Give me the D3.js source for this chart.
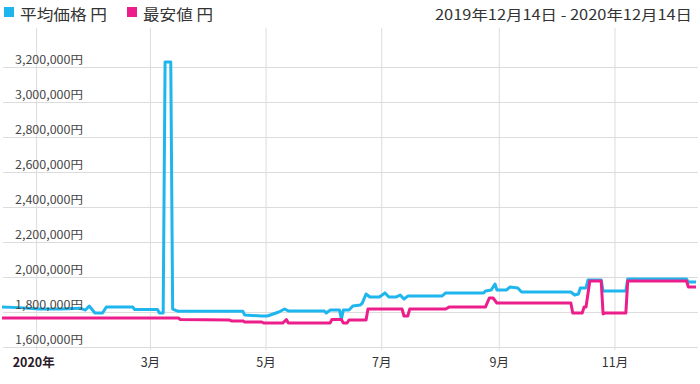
<!DOCTYPE html>
<html><head><meta charset="utf-8">
<script src="https://cdnjs.cloudflare.com/ajax/libs/d3/7.8.5/d3.min.js"></script>
<style>
html,body{margin:0;padding:0;background:#fff;}
svg{display:block;font-family:"Noto Sans CJK JP","Noto Sans",sans-serif;}
</style></head>
<body><svg id="c" width="700" height="384"></svg>
<script>
const seriesNames = ["平均価格 円", "最安値 円"];
const seriesColors = ["#1fb6ee", "#ec1e8c"];
const dateRangeLabel = "2019年12月14日 - 2020年12月14日";
const yTickValues = [1600000,1800000,2000000,2200000,2400000,2600000,2800000,3000000,3200000];
const avgDates = ["2019-12-14","2019-12-23","2020-01-03","2020-01-14","2020-01-24","2020-01-27","2020-01-29","2020-02-01","2020-02-05","2020-02-07","2020-02-21","2020-02-22","2020-03-05","2020-03-06","2020-03-08","2020-03-09","2020-03-12","2020-03-13","2020-03-16","2020-04-19","2020-04-20","2020-04-29","2020-05-02","2020-05-08","2020-05-11","2020-05-13","2020-06-01","2020-06-02","2020-06-04","2020-06-09","2020-06-10","2020-06-11","2020-06-14","2020-06-16","2020-06-20","2020-06-21","2020-06-23","2020-06-25","2020-06-30","2020-07-03","2020-07-05","2020-07-09","2020-07-11","2020-07-13","2020-07-15","2020-08-02","2020-08-04","2020-08-24","2020-08-25","2020-08-28","2020-08-30","2020-08-31","2020-09-05","2020-09-07","2020-09-11","2020-09-13","2020-10-09","2020-10-11","2020-10-13","2020-10-14","2020-10-17","2020-10-18","2020-10-25","2020-10-26","2020-11-07","2020-11-08","2020-12-09","2020-12-10","2020-12-14"];
const avgValues = [1828000,1825000,1817000,1817000,1822000,1811000,1834000,1794000,1794000,1828000,1828000,1814000,1814000,1794000,1794000,3228000,3228000,1817000,1804000,1804000,1783000,1777000,1777000,1800000,1817000,1806000,1806000,1794000,1811000,1811000,1760000,1811000,1811000,1834000,1840000,1851000,1903000,1886000,1886000,1909000,1886000,1886000,1897000,1874000,1891000,1891000,1909000,1909000,1920000,1926000,1960000,1926000,1926000,1943000,1937000,1914000,1914000,1897000,1903000,1937000,1937000,1983000,1983000,1920000,1920000,1989000,1989000,1971000,1971000];
const minDates = ["2019-12-14","2020-03-16","2020-03-17","2020-04-12","2020-04-13","2020-04-19","2020-04-20","2020-04-29","2020-04-30","2020-05-10","2020-05-12","2020-05-13","2020-06-04","2020-06-05","2020-06-10","2020-06-11","2020-06-13","2020-06-14","2020-06-23","2020-06-24","2020-07-12","2020-07-13","2020-07-15","2020-07-16","2020-08-04","2020-08-06","2020-08-25","2020-08-27","2020-08-29","2020-08-31","2020-10-09","2020-10-10","2020-10-15","2020-10-16","2020-10-17","2020-10-19","2020-10-25","2020-10-26","2020-10-27","2020-11-07","2020-11-08","2020-12-09","2020-12-10","2020-12-14"];
const minValues = [1766000,1766000,1757000,1754000,1749000,1749000,1743000,1743000,1737000,1737000,1757000,1737000,1737000,1757000,1757000,1737000,1737000,1754000,1754000,1817000,1817000,1777000,1777000,1817000,1817000,1829000,1829000,1880000,1880000,1851000,1851000,1794000,1794000,1829000,1829000,1977000,1977000,1789000,1794000,1794000,1977000,1977000,1943000,1943000];

const svg = d3.select("#c");
const parse = d3.timeParse("%Y-%m-%d");
const plotTop = 28, plotBottom = 350, plotLeft = 2, plotRight = 696;
const x = d3.scaleTime().domain([parse("2019-12-14"), parse("2020-12-14")]).range([plotLeft, plotRight]);
const y = d3.scaleLinear().domain([1600000, 3200000]).range([347, 67]);

// vertical grid + x labels
const xTicks = [parse("2020-01-01"),parse("2020-03-01"),parse("2020-05-01"),parse("2020-07-01"),parse("2020-09-01"),parse("2020-11-01")];
const xAxis = d3.axisBottom(x).tickValues(xTicks).tickSizeInner(-(plotBottom-plotTop)).tickSizeOuter(0)
  .tickFormat(d => d.getMonth() === 0 ? d.getFullYear() + "年" : (d.getMonth()+1) + "月");
const gx = svg.append("g").attr("transform", `translate(0,${plotBottom})`).call(xAxis);
gx.select(".domain").remove();
gx.selectAll(".tick line").attr("stroke", "#dcdcdc").attr("stroke-width", 1);
gx.selectAll(".tick text").attr("y", 17).attr("dy", 0).attr("fill", "#333")
  .style("font-size", "12.5px").style("font-family", '"Noto Sans CJK JP",sans-serif');
gx.selectAll(".tick").filter(d => d.getMonth() === 0).select("text")
  .attr("x", -3).style("font-weight", "bold").attr("fill", "#2a1a2a");

// horizontal grid
const yAxis = d3.axisRight(y).tickValues(yTickValues).tickSize(plotRight - plotLeft + 1).tickFormat(d => d3.format(",")(d) + "円");
const gy = svg.append("g").attr("transform", `translate(${plotLeft+1},0)`).call(yAxis);
gy.select(".domain").remove();
gy.selectAll(".tick line").attr("stroke", "#dcdcdc").attr("stroke-width", 1);
gy.selectAll(".tick text").remove();

// lines
const line = d3.line().x(d => x(d[0])).y(d => y(d[1]));
const avgData = avgDates.map((d,i) => [parse(d), avgValues[i]]);
const minData = minDates.map((d,i) => [parse(d), minValues[i]]);
svg.append("path").datum(avgData).attr("d", line).attr("fill","none").attr("stroke", seriesColors[0]).attr("stroke-width", 3).attr("stroke-linejoin","round");
svg.append("path").datum(minData).attr("d", line).attr("fill","none").attr("stroke", seriesColors[1]).attr("stroke-width", 3).attr("stroke-linejoin","round");

// y labels on top
const gyl = svg.append("g");
gyl.selectAll("text").data(yTickValues).join("text")
  .attr("x", 83).attr("y", d => y(d) - 3).attr("text-anchor","end")
  .attr("fill", "#444").style("font-size","11.5px")
  .attr("textLength", 68).attr("lengthAdjust","spacingAndGlyphs")
  .text(d => d3.format(",")(d) + "円");

// legend
const leg = svg.append("g");
const legX = [4, 127];
seriesNames.forEach((n,i) => {
  leg.append("rect").attr("x", legX[i]).attr("y", 7).attr("width", 10).attr("height", 10).attr("fill", seriesColors[i]);
  leg.append("text").attr("x", legX[i] + 16).attr("y", 20).attr("fill", "#333").style("font-size","15px")
    .attr("textLength", i === 0 ? 87 : 70).attr("lengthAdjust","spacingAndGlyphs").text(n);
});
svg.append("text").attr("x", 692).attr("y", 20).attr("text-anchor","end").attr("fill","#333")
  .style("font-size","14px").attr("textLength", 257).attr("lengthAdjust","spacingAndGlyphs").text(dateRangeLabel);
</script></body></html>
